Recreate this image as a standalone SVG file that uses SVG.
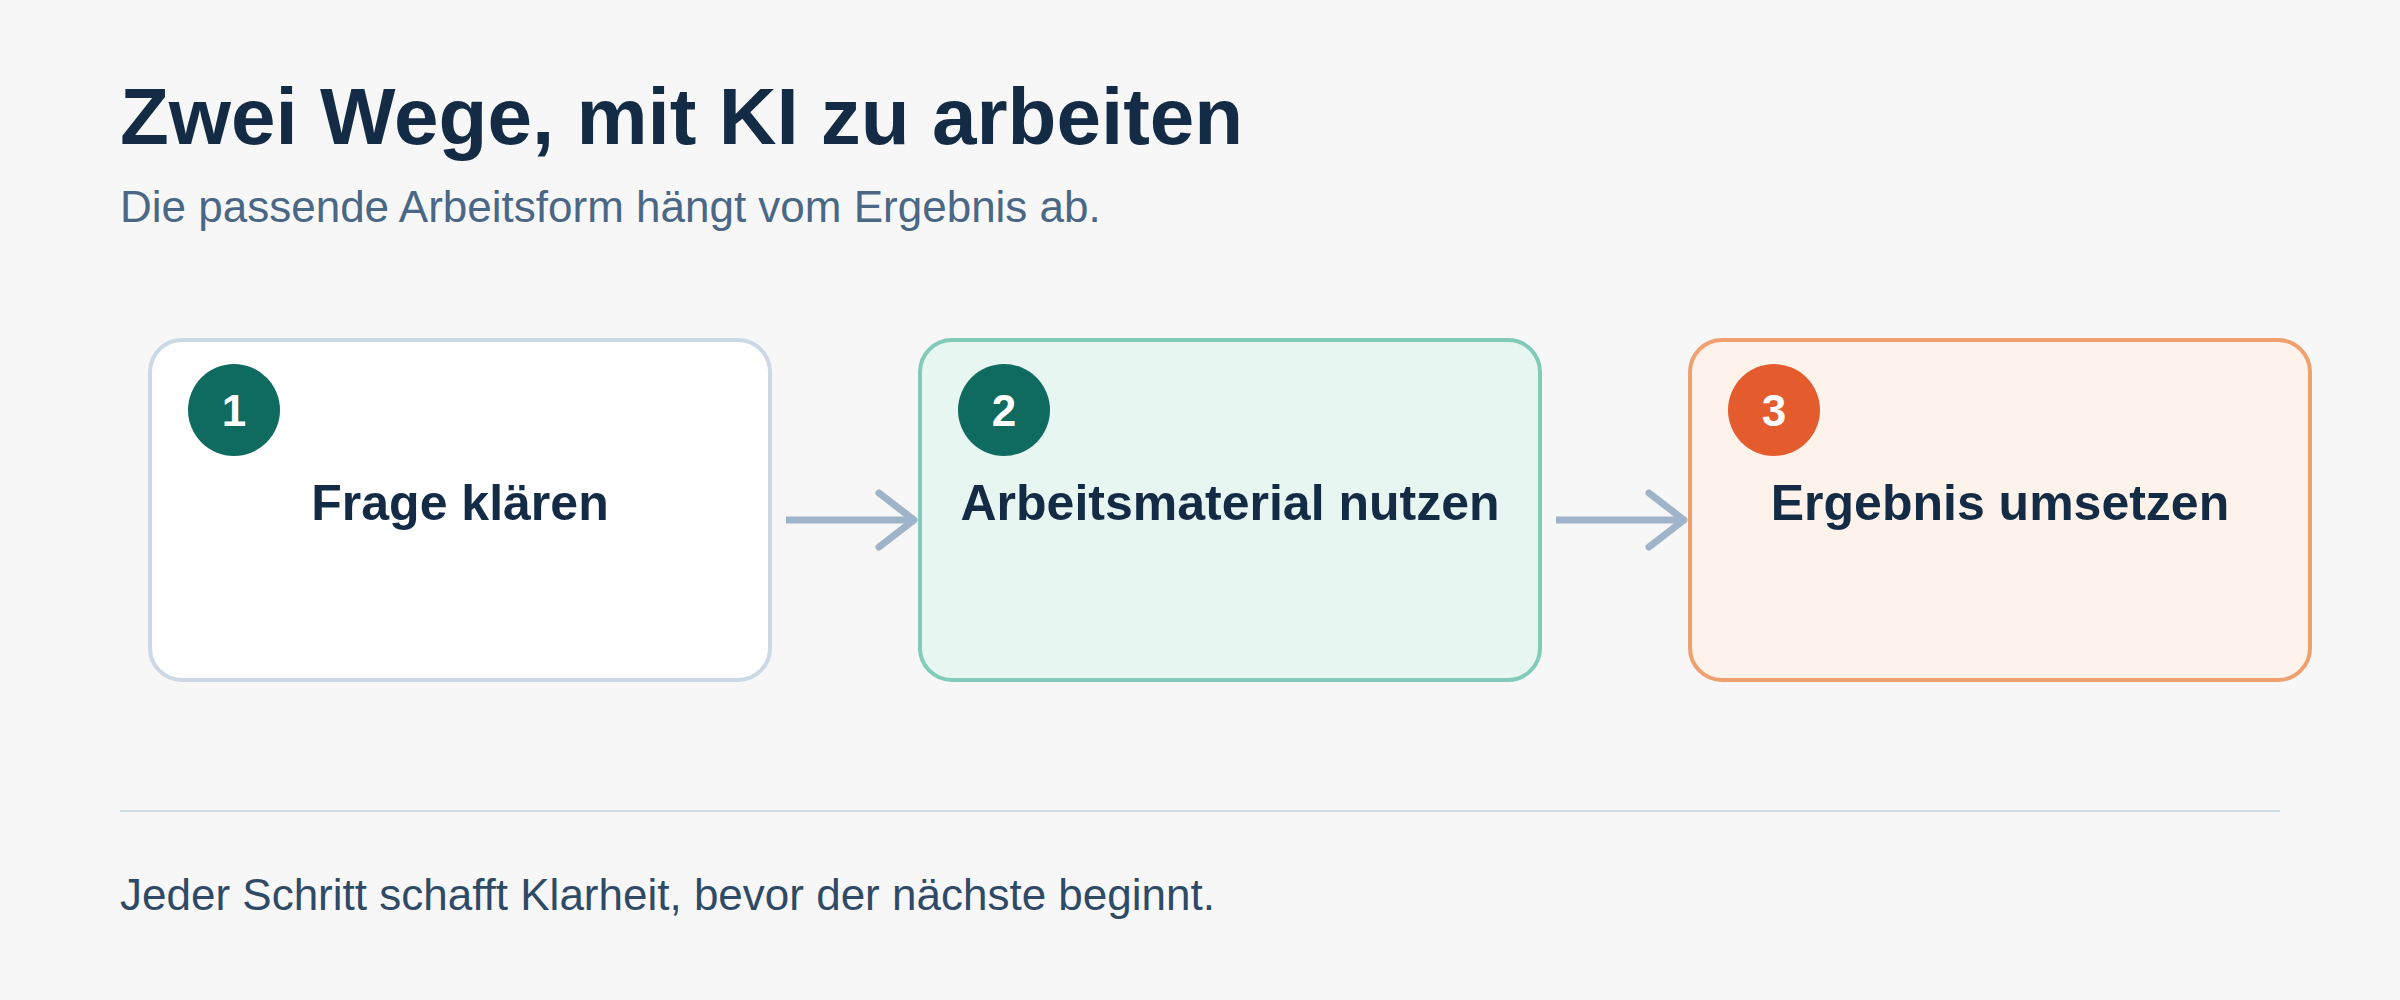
<svg xmlns="http://www.w3.org/2000/svg" width="2400" height="1000" viewBox="0 0 2400 1000">
  <style>
    .title { font-family: "Liberation Sans", Arial, sans-serif; font-weight: 700; font-size: 80px; fill: #142b45; }
    .subtitle { font-family: "Liberation Sans", Arial, sans-serif; font-size: 44px; fill: #4a6785; }
    .footer { font-family: "Liberation Sans", Arial, sans-serif; font-size: 44px; fill: #2f4a66; }
    .label { font-family: "Liberation Sans", Arial, sans-serif; font-weight: 700; font-size: 50px; fill: #142b45; text-anchor: middle; }
    .num { font-family: "Liberation Sans", Arial, sans-serif; font-weight: 700; font-size: 44px; fill: #ffffff; text-anchor: middle; }
    .box { stroke-width: 4; }
    .conn { fill: none; stroke: #9fb3c9; stroke-width: 7; stroke-linejoin: round; }
    .head { stroke-linecap: round; }
  </style>
  <rect x="0" y="0" width="2400" height="1000" fill="#f7f7f7"/>

  <text class="title" x="120" y="144">Zwei Wege, mit KI zu arbeiten</text>
  <text class="subtitle" x="120" y="222">Die passende Arbeitsform hängt vom Ergebnis ab.</text>

  <g id="connectors">
    <g id="c1">
      <line class="conn" x1="786" y1="520" x2="912" y2="520"/>
      <polyline class="conn head" points="879,493 914,520 879,547"/>
    </g>
    <g id="c2">
      <line class="conn" x1="1556" y1="520" x2="1682" y2="520"/>
      <polyline class="conn head" points="1649,493 1684,520 1649,547"/>
    </g>
  </g>

  <g id="node1">
    <rect class="box" x="150" y="340" width="620" height="340" rx="32" fill="#ffffff" stroke="#cbd9e6"/>
    <circle cx="234" cy="410" r="46" fill="#0f6b60"/>
    <text class="num" x="234" y="426">1</text>
    <text class="label" x="460" y="520">Frage klären</text>
  </g>

  <g id="node2">
    <rect class="box" x="920" y="340" width="620" height="340" rx="32" fill="#e8f6f2" stroke="#82cbbb"/>
    <circle cx="1004" cy="410" r="46" fill="#0f6b60"/>
    <text class="num" x="1004" y="426">2</text>
    <text class="label" x="1230" y="520">Arbeitsmaterial nutzen</text>
  </g>

  <g id="node3">
    <rect class="box" x="1690" y="340" width="620" height="340" rx="32" fill="#fef3ea" stroke="#f0a06e"/>
    <circle cx="1774" cy="410" r="46" fill="#e45b2d"/>
    <text class="num" x="1774" y="426">3</text>
    <text class="label" x="2000" y="520">Ergebnis umsetzen</text>
  </g>

  <line x1="120" y1="811" x2="2280" y2="811" stroke="#cfdde4" stroke-width="2"/>
  <text class="footer" x="120" y="910">Jeder Schritt schafft Klarheit, bevor der nächste beginnt.</text>
</svg>
